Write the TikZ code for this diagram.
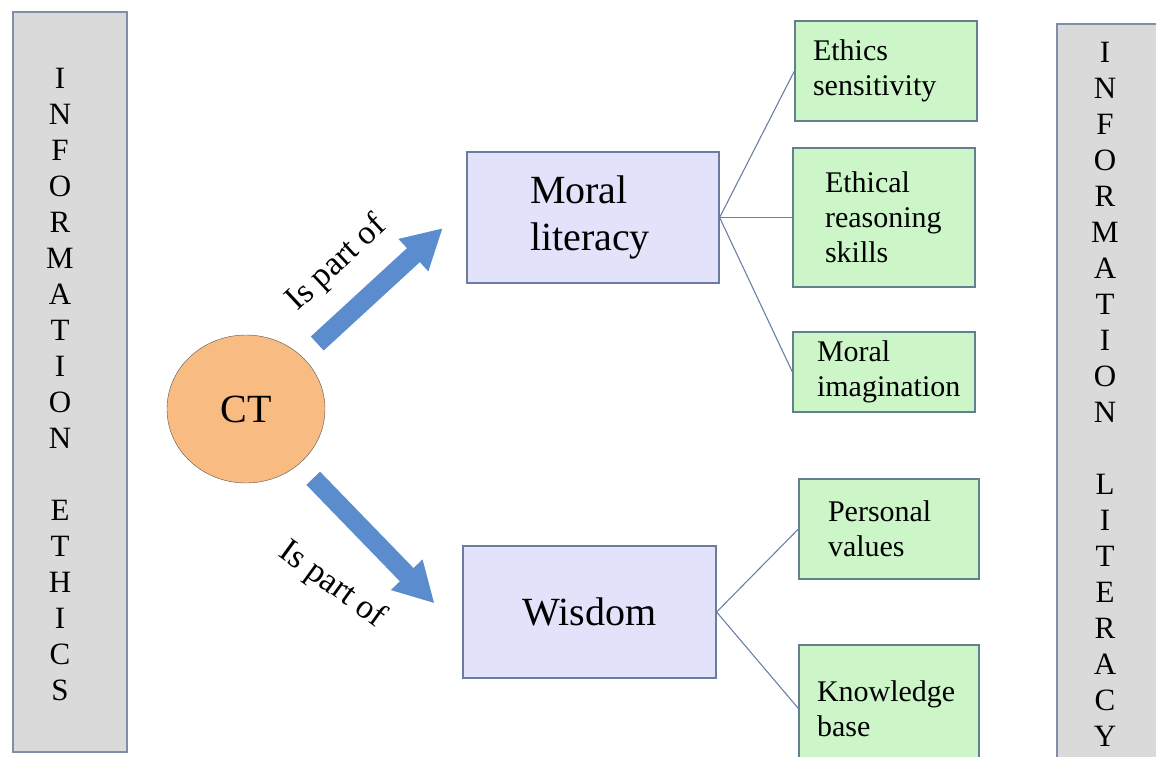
\documentclass[tikz,border=0pt]{standalone}
\usepackage{fontspec}
\setmainfont{Liberation Serif}
\usetikzlibrary{shapes.geometric, arrows.meta}
\definecolor{barfill}{HTML}{DADADA}
\definecolor{baredge}{HTML}{7F8FA8}
\definecolor{topicfill}{HTML}{E2E2FA}
\definecolor{topicedge}{HTML}{6A7DA0}
\definecolor{itemfill}{HTML}{CCF5C8}
\definecolor{itemedge}{HTML}{62808F}
\definecolor{ctfill}{HTML}{F8BB82}
\definecolor{ctedge}{HTML}{555555}
\definecolor{arrowfill}{HTML}{5B8DCE}
\definecolor{linkcol}{HTML}{6A80A8}

\begin{document}
\begin{tikzpicture}[
      x=1pt, y=-1pt,
      bar/.style={draw=baredge, fill=barfill, line width=1.2, minimum width=114, inner sep=0},
      letters/.style={align=center, inner sep=0, font=\fontsize{31}{36}\selectfont},
      topic/.style={draw=topicedge, fill=topicfill, line width=1.2, font=\fontsize{40}{47}\selectfont},
      item/.style={draw=itemedge, fill=itemfill, line width=1.2, align=left, font=\fontsize{30}{35}\selectfont},
      link/.style={draw=linkcol, line width=1.1},
      partof/.style={draw=arrowfill, line width=19, -{Triangle[width=41,length=40]}},
      tag/.style={font=\fontsize{34}{40}\selectfont},
    ]
      \clip (0,0) rectangle (1156,756);
      \node[bar, minimum height=740] (leftbar) at (70,382) {};
      \node[bar, minimum height=746] (rightbar) at (1114,397) {};
      \node[letters] (ethics) at (60,384) {I\\N\\F\\O\\R\\M\\A\\T\\I\\O\\N\\[36pt]E\\T\\H\\I\\C\\S};
      \node[letters] (literacy) at (1105,394.5) {I\\N\\F\\O\\R\\M\\A\\T\\I\\O\\N\\[36pt]L\\I\\T\\E\\R\\A\\C\\Y};
      \node[ellipse, draw=ctedge, fill=ctfill, minimum width=158, minimum height=148, font=\fontsize{40}{48}\selectfont] (ct) at (246,409) {CT};
      \node[topic, align=left, text width=126, inner xsep=63, minimum height=131] (moral) at (593,217.5) {Moral\\literacy};
      \node[topic, minimum width=253, minimum height=132] (wisdom) at (589.5,612) {Wisdom};
      \node[item, text width=146, inner xsep=18, minimum height=100] (sens) at (886,71) {Ethics\\sensitivity};
      \node[item, text width=118, inner xsep=32, minimum height=139] (reason) at (884,217.5) {Ethical\\reasoning\\skills};
      \node[item, text width=134, inner xsep=24, minimum height=80] (imag) at (884,372) {Moral\\imagination};
      \node[item, text width=122, inner xsep=29, minimum height=100] (values) at (889,529) {Personal\\values};
      \node[item, text width=144, inner xsep=18, minimum height=127] (know) at (889,708.5) {Knowledge\\base};
      \node[tag, rotate=43] (tag1) at (337,264) {Is part of};
      \node[tag, rotate=-36] (tag2) at (332,585) {Is part of};
      \draw[partof, shorten <=20, shorten >=32] (ct) -- (moral.175);
      \draw[partof, shorten <=20, shorten >=40] (ct) -- (wisdom.189);
      \draw[link] (moral.east) -- (sens.west);
      \draw[link] (moral.east) -- (reason.west);
      \draw[link] (moral.east) -- (imag.west);
      \draw[link] (wisdom.east) -- (values.west);
      \draw[link] (wisdom.east) -- (know.west);
    \end{tikzpicture}
\end{document}
